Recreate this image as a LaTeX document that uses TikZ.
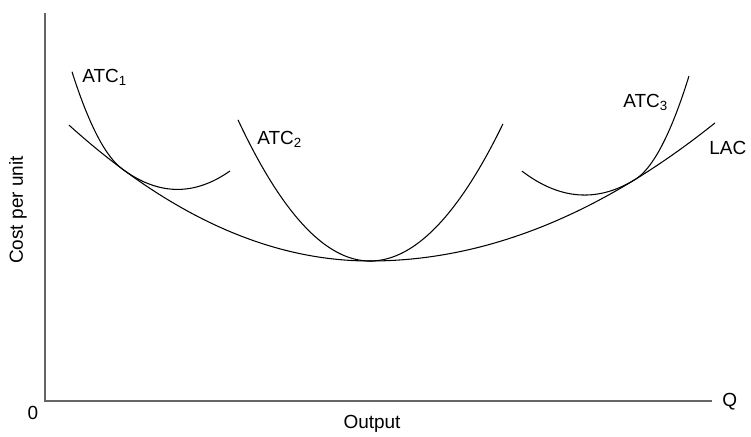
\documentclass[tikz,border=0pt]{standalone}
\usepackage{fontspec}
\setmainfont{Liberation Sans}
\usetikzlibrary{positioning,calc}

\begin{document}
\begin{tikzpicture}[
    declare function={
        lac(\x) = 2.8 + (\x<6.5 ? 0.075 : 0.058)*(\x-6.5)*(\x-6.5);
    }]
    \tikzset{
        axis/.style={draw=black!60, line width=0.8pt},
        curve/.style={draw, black, line width=0.6pt, samples=120, smooth},
        lbl/.style={font=\fontsize{10.8}{12}\selectfont, inner sep=0pt}
    }
    \useasboundingbox (-0.9,-0.7) rectangle (14.12,8.02);

    % axes
    \coordinate (o) at (0,0);
    \coordinate (ytop) at (0,7.76);
    \coordinate (xend) at (13.34,0);
    \draw[axis] (ytop) -- (o) -- (xend);
    \node[lbl, anchor=west] (q) at (13.54,-0.02) {Q};
    \node[lbl] (zero) at (-0.24,-0.24) {0};
    \node[lbl] (output) at (6.54,-0.46) {Output};
    \node[lbl, rotate=90] (cost) at (-0.54,3.82) {Cost per unit};

    % long run curve
    \draw[curve, domain=0.48:13.4] plot (\x, {lac(\x)});
    \node[lbl, anchor=base west] (laclbl) at (13.28,4.92) {LAC};

    % short run curves
    \draw[curve, domain=0.54:3.7]
        plot (\x, {lac(\x) + (\x<1.54 ? 1.12 : 0.26)*(\x-1.54)*(\x-1.54)});
    \node[lbl, anchor=base west] (atc1) at (0.74,6.36) {ATC\textsubscript{1}};

    \draw[curve, domain=3.86:9.16]
        plot (\x, {lac(\x) + 0.33*(\x-6.5)*(\x-6.5)});
    \node[lbl, anchor=base west] (atc2) at (4.24,5.12) {ATC\textsubscript{2}};

    \draw[curve, domain=9.54:12.88]
        plot (\x, {lac(\x) + (\x<11.8 ? 0.247 : 1.15)*(\x-11.8)*(\x-11.8)});
    \node[lbl, anchor=base west] (atc3) at (11.56,5.86) {ATC\textsubscript{3}};
\end{tikzpicture}
\end{document}
